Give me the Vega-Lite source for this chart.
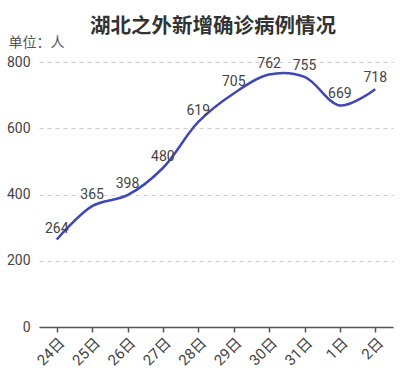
{
  "$schema": "https://vega.github.io/schema/vega-lite/v6.json",
  "width": 354,
  "height": 265,
  "autosize": {"type": "none"},
  "padding": {"left": 39, "top": 62, "right": 7, "bottom": 43},
  "background": "white",
  "config": {
    "view": {"stroke": null},
    "font": "Roboto, Noto Sans CJK SC"
  },
  "title": {
    "text": "湖北之外新增确诊病例情况",
    "anchor": "middle",
    "font": "Noto Sans CJK SC",
    "fontSize": 20.5,
    "fontWeight": "bold",
    "color": "#333333",
    "baseline": "bottom",
    "offset": 0,
    "dx": -3,
    "dy": 22
  },
  "data": {
    "values": [
      {"day": "24日", "value": 264},
      {"day": "25日", "value": 365},
      {"day": "26日", "value": 398},
      {"day": "27日", "value": 480},
      {"day": "28日", "value": 619},
      {"day": "29日", "value": 705},
      {"day": "30日", "value": 762},
      {"day": "31日", "value": 755},
      {"day": "1日", "value": 669},
      {"day": "2日", "value": 718}
    ]
  },
  "encoding": {
    "x": {
      "field": "day",
      "type": "ordinal",
      "sort": null,
      "scale": {"type": "point", "padding": 0.5},
      "axis": {
        "title": null,
        "labelAngle": -45,
        "labelFontSize": 15,
        "labelColor": "#444444",
        "labelFont": "Roboto, Noto Sans CJK SC",
        "domainColor": "#555555",
        "domainWidth": 1.5,
        "tickColor": "#555555",
        "tickWidth": 1.5,
        "tickSize": 5,
        "labelPadding": 3,
        "grid": false
      }
    },
    "y": {
      "field": "value",
      "type": "quantitative",
      "scale": {"domain": [0, 800], "nice": false},
      "axis": {
        "values": [0, 200, 400, 600, 800],
        "title": "单位：人",
        "titleAngle": 0,
        "titleAlign": "left",
        "titleBaseline": "middle",
        "titleX": -31,
        "titleY": -20,
        "titleFont": "Noto Sans CJK SC",
        "titleFontSize": 14,
        "titleFontWeight": "normal",
        "titleColor": "#555555",
        "labelFontSize": 14,
        "labelColor": "#444444",
        "labelPadding": 9,
        "domain": false,
        "ticks": false,
        "grid": true,
        "gridColor": "#cccccc",
        "gridDash": [4, 4],
        "gridWidth": 1
      }
    }
  },
  "layer": [
    {
      "mark": {"type": "line", "interpolate": "catmull-rom", "color": "#3f48b5", "strokeWidth": 2.5}
    },
    {
      "mark": {"type": "text", "fontSize": 14, "color": "#444444", "baseline": "middle", "dy": -11},
      "encoding": {"text": {"field": "value", "type": "quantitative"}}
    }
  ]
}
